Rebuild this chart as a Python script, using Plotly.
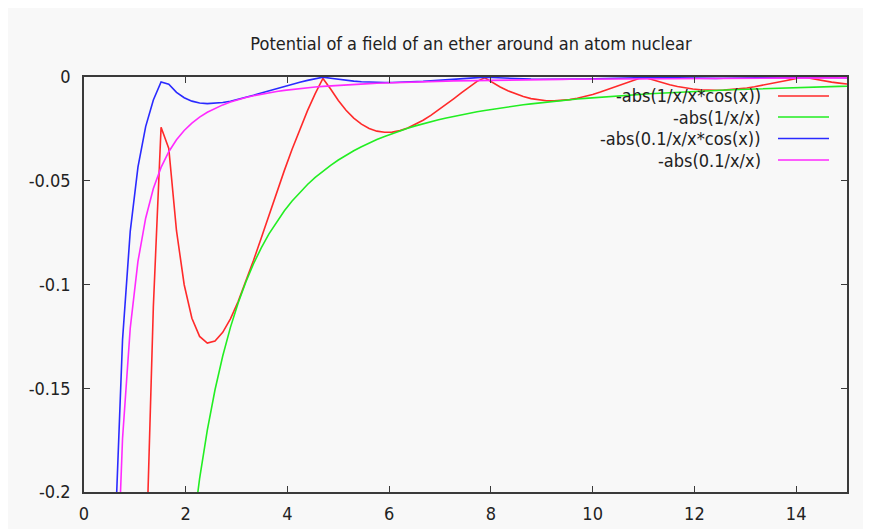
import plotly.graph_objects as go

# Sample positions (gnuplot default: 100 samples over [0, 15], x=0 undefined)
x_vals = [0.1515, 0.3030, 0.4545, 0.6061, 0.7576, 0.9091, 1.0606, 1.2121, 1.3636, 1.5152,
          1.6667, 1.8182, 1.9697, 2.1212, 2.2727, 2.4242, 2.5758, 2.7273, 2.8788, 3.0303,
          3.1818, 3.3333, 3.4848, 3.6364, 3.7879, 3.9394, 4.0909, 4.2424, 4.3939, 4.5455,
          4.6970, 4.8485, 5.0000, 5.1515, 5.3030, 5.4545, 5.6061, 5.7576, 5.9091, 6.0606,
          6.2121, 6.3636, 6.5152, 6.6667, 6.8182, 6.9697, 7.1212, 7.2727, 7.4242, 7.5758,
          7.7273, 7.8788, 8.0303, 8.1818, 8.3333, 8.4848, 8.6364, 8.7879, 8.9394, 9.0909,
          9.2424, 9.3939, 9.5455, 9.6970, 9.8485, 10.0000, 10.1515, 10.3030, 10.4545, 10.6061,
          10.7576, 10.9091, 11.0606, 11.2121, 11.3636, 11.5152, 11.6667, 11.8182, 11.9697, 12.1212,
          12.2727, 12.4242, 12.5758, 12.7273, 12.8788, 13.0303, 13.1818, 13.3333, 13.4848, 13.6364,
          13.7879, 13.9394, 14.0909, 14.2424, 14.3939, 14.5455, 14.6970, 14.8485, 15.0000]

red_vals = [-43.061, -10.394, -4.3486, -2.2376, -1.2659, -0.74350, -0.43413, -0.23892, -0.11061, -0.024226,
            -0.034461, -0.074073, -0.10011, -0.11624, -0.12501, -0.12822, -0.12723, -0.12307, -0.11652, -0.10823,
            -0.098696, -0.088351, -0.077540, -0.066556, -0.055640, -0.044996, -0.034791, -0.025161, -0.016217, -0.0080421,
            -0.00069887, -0.0057715, -0.011346, -0.016020, -0.019803, -0.022717, -0.024799, -0.026094, -0.026658, -0.026553,
            -0.025848, -0.024614, -0.022928, -0.020866, -0.018505, -0.015922, -0.013191, -0.010381, -0.0075586, -0.0047855,
            -0.0021163, -0.00039955, -0.0027201, -0.0048100, -0.0066413, -0.0081929, -0.0094516, -0.010410, -0.011069, -0.011432,
            -0.011513, -0.011327, -0.010895, -0.010243, -0.0093983, -0.0083907, -0.0072522, -0.0060153, -0.0047119, -0.0033759,
            -0.0020372, -0.00072581, -0.00053120, -0.0017092, -0.0027864, -0.0037447, -0.0045687, -0.0052477, -0.0057739, -0.0061427,
            -0.0063548, -0.0064127, -0.0063227, -0.0060933, -0.0057372, -0.0052674, -0.0046990, -0.0040501, -0.0033381, -0.0025821,
            -0.0018001, -0.0010111, -0.00023287, -0.00051796, -0.0012259, -0.0018768, -0.0024586, -0.0029613, -0.0033761]

green_vals = [-43.56, -10.89, -4.84, -2.7225, -1.7424, -1.21, -0.88898, -0.680625, -0.537778, -0.4356,
              -0.36, -0.3025, -0.257751, -0.222245, -0.1936, -0.170156, -0.150727, -0.134444, -0.120665, -0.1089,
              -0.098776, -0.09, -0.082344, -0.075625, -0.069696, -0.064438, -0.059753, -0.055561, -0.051796, -0.0484,
              -0.045328, -0.042539, -0.04, -0.037682, -0.035559, -0.033611, -0.031819, -0.030166, -0.028639, -0.027225,
              -0.025913, -0.024694, -0.023559, -0.0225, -0.021511, -0.020586, -0.019719, -0.018906, -0.018142, -0.017424,
              -0.016747, -0.016109, -0.015507, -0.014938, -0.0144, -0.01389, -0.013407, -0.012949, -0.012514, -0.0121,
              -0.011707, -0.011332, -0.010975, -0.010635, -0.01031, -0.01, -0.009704, -0.009421, -0.009149, -0.00889,
              -0.008641, -0.008403, -0.008174, -0.007955, -0.007744, -0.007542, -0.007347, -0.00716, -0.00698, -0.006806,
              -0.006639, -0.006478, -0.006323, -0.006173, -0.006029, -0.00589, -0.005755, -0.005625, -0.005499, -0.005378,
              -0.00526, -0.005146, -0.005036, -0.00493, -0.004827, -0.004727, -0.00463, -0.004536, -0.004444]

blue_vals = [-4.3061, -1.0394, -0.43486, -0.22376, -0.12659, -0.074350, -0.043413, -0.023892, -0.011061, -0.0024226,
             -0.0034461, -0.0074073, -0.010011, -0.011624, -0.012501, -0.012822, -0.012723, -0.012307, -0.011652, -0.010823,
             -0.0098696, -0.0088351, -0.0077540, -0.0066556, -0.0055640, -0.0044996, -0.0034791, -0.0025161, -0.0016217, -0.00080421,
             -0.000069887, -0.00057715, -0.0011346, -0.0016020, -0.0019803, -0.0022717, -0.0024799, -0.0026094, -0.0026658, -0.0026553,
             -0.0025848, -0.0024614, -0.0022928, -0.0020866, -0.0018505, -0.0015922, -0.0013191, -0.0010381, -0.00075586, -0.00047855,
             -0.00021163, -0.000039955, -0.00027201, -0.00048100, -0.00066413, -0.00081929, -0.00094516, -0.0010410, -0.0011069, -0.0011432,
             -0.0011513, -0.0011327, -0.0010895, -0.0010243, -0.00093983, -0.00083907, -0.00072522, -0.00060153, -0.00047119, -0.00033759,
             -0.00020372, -0.000072581, -0.000053120, -0.00017092, -0.00027864, -0.00037447, -0.00045687, -0.00052477, -0.00057739, -0.00061427,
             -0.00063548, -0.00064127, -0.00063227, -0.00060933, -0.00057372, -0.00052674, -0.00046990, -0.00040501, -0.00033381, -0.00025821,
             -0.00018001, -0.00010111, -0.000023287, -0.000051796, -0.00012259, -0.00018768, -0.00024586, -0.00029613, -0.00033761]

magenta_vals = [-4.356, -1.089, -0.484, -0.27225, -0.17424, -0.121, -0.088898, -0.0680625, -0.0537778, -0.04356,
                -0.036, -0.03025, -0.0257751, -0.0222245, -0.01936, -0.0170156, -0.0150727, -0.0134444, -0.0120665, -0.01089,
                -0.0098776, -0.009, -0.0082344, -0.0075625, -0.0069696, -0.0064438, -0.0059753, -0.0055561, -0.0051796, -0.00484,
                -0.0045328, -0.0042539, -0.004, -0.0037682, -0.0035559, -0.0033611, -0.0031819, -0.0030166, -0.0028639, -0.0027225,
                -0.0025913, -0.0024694, -0.0023559, -0.00225, -0.0021511, -0.0020586, -0.0019719, -0.0018906, -0.0018142, -0.0017424,
                -0.0016747, -0.0016109, -0.0015507, -0.0014938, -0.00144, -0.001389, -0.0013407, -0.0012949, -0.0012514, -0.00121,
                -0.0011707, -0.0011332, -0.0010975, -0.0010635, -0.001031, -0.001, -0.0009704, -0.0009421, -0.0009149, -0.000889,
                -0.0008641, -0.0008403, -0.0008174, -0.0007955, -0.0007744, -0.0007542, -0.0007347, -0.000716, -0.000698, -0.0006806,
                -0.0006639, -0.0006478, -0.0006323, -0.0006173, -0.0006029, -0.000589, -0.0005755, -0.0005625, -0.0005499, -0.0005378,
                -0.000526, -0.0005146, -0.0005036, -0.000493, -0.0004827, -0.0004727, -0.000463, -0.0004536, -0.0004444]

series_names = ["-abs(1/x/x*cos(x))", "-abs(1/x/x)", "-abs(0.1/x/x*cos(x))", "-abs(0.1/x/x)"]
series_colors = ["#ff2a2a", "#22ee22", "#2a2aff", "#ff2aff"]
series_values = [red_vals, green_vals, blue_vals, magenta_vals]

x_tickvals = [0, 2, 4, 6, 8, 10, 12, 14]
x_ticktext = ["0", "2", "4", "6", "8", "10", "12", "14"]
y_tickvals = [-0.2, -0.15, -0.1, -0.05, 0]
y_ticktext = ["-0.2", "-0.15", "-0.1", "-0.05", "0"]

title_text = "Potential of a field of an ether around an atom nuclear"

FONT = "DejaVu Sans Condensed, DejaVu Sans, sans-serif"
FS = 18
TEXT_COLOR = "#222222"
AXIS_COLOR = "#3a3a3a"
BG = "#f8f8f8"

# The page body adds an 8px offset; figure coordinates below are in figure pixels.
W, H = 863, 521
ML, MR, MT, MB = 76, 24, 69, 37
PW, PH = W - ML - MR, H - MT - MB

def px_x(p):
    return (p - ML) / PW

def px_y(p):
    return 1 - (p - MT) / PH

fig = go.Figure()
for name, color, vals in zip(series_names, series_colors, series_values):
    fig.add_trace(go.Scatter(x=x_vals, y=vals, mode="lines", name=name,
                             line=dict(color=color, width=1.6), showlegend=False))

# gnuplot-style key: text right-aligned, sample line to its right
legend_rows_px = [88, 109, 130.5, 152]
annotations = []
shapes = []
for name, color, ypx in zip(series_names, series_colors, legend_rows_px):
    annotations.append(dict(x=px_x(755), y=px_y(ypx), xref="paper", yref="paper",
                            text=name, showarrow=False, xanchor="right", yanchor="middle",
                            font=dict(family=FONT, size=FS, color=TEXT_COLOR)))
    shapes.append(dict(type="line", xref="paper", yref="paper",
                       x0=px_x(770), x1=px_x(821), y0=px_y(ypx), y1=px_y(ypx),
                       line=dict(color=color, width=1.6)))

fig.update_layout(
    width=W, height=H,
    margin=dict(l=ML, r=MR, t=MT, b=MB, pad=0, autoexpand=False),
    paper_bgcolor=BG, plot_bgcolor=BG,
    title=dict(text=title_text, x=463 / W, xref="container", xanchor="center",
               y=1 - 36 / H, yref="container", yanchor="middle",
               font=dict(family=FONT, size=FS, color=TEXT_COLOR)),
    annotations=annotations, shapes=shapes,
    showlegend=False,
)
fig.update_xaxes(range=[0, 15], tickvals=x_tickvals, ticktext=x_ticktext,
                 showgrid=False, zeroline=False, showline=True, linecolor=AXIS_COLOR,
                 linewidth=1.6, mirror="ticks", ticks="inside", ticklen=6,
                 tickcolor=AXIS_COLOR, tickwidth=1.2, ticklabelstandoff=5, automargin=False,
                 tickfont=dict(family=FONT, size=FS, color=TEXT_COLOR))
fig.update_yaxes(range=[-0.2, 0], tickvals=y_tickvals, ticktext=y_ticktext,
                 showgrid=False, zeroline=False, showline=True, linecolor=AXIS_COLOR,
                 linewidth=1.6, mirror="ticks", ticks="inside", ticklen=6,
                 tickcolor=AXIS_COLOR, tickwidth=1.2, ticklabelstandoff=8, automargin=False,
                 tickfont=dict(family=FONT, size=FS, color=TEXT_COLOR))

fig.write_html("out.html")
